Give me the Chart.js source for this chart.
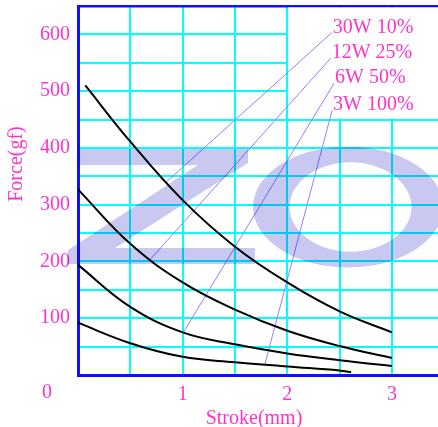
<!DOCTYPE html>
<html>
<head>
<meta charset="utf-8">
<script src="https://cdn.jsdelivr.net/npm/chart.js@4.4.1/dist/chart.umd.min.js"></script>
<style>
  html, body { margin: 0; padding: 0; background: #fff; }
  #wrap { width: 438px; height: 427px; position: relative; }
</style>
</head>
<body>
<div id="wrap"><canvas id="chart"></canvas></div>
<script>
// stroke (mm) and force (gf)
const stroke30W = [0.07, 0.5, 1.0, 1.5, 2.0, 2.5, 3.0];
const force30W = [510, 411, 308, 226, 163, 112, 75];
const stroke12W = [0, 0.5, 1.0, 1.5, 2.0, 2.5, 3.0];
const force12W = [327, 231, 163, 115, 78, 51, 30];
const stroke6W = [0, 0.5, 1.0, 1.5, 2.0, 2.5, 3.0];
const force6W = [194, 120, 75, 54, 38, 26, 16];
const stroke3W = [0, 0.5, 1.0, 1.5, 2.0, 2.5, 2.61];
const force3W = [92, 56, 32, 22.5, 15, 8, 5];

// callout labels, leader lines go from the label to its curve
const calloutLabels = ["30W 10%", "12W 25%", "6W 50%", "3W 100%"];
const calloutFromX = [2.425, 2.415, 2.447, 2.428];
const calloutFromY = [603, 558, 514, 466];
const calloutToX = [0.832, 0.673, 1.007, 1.786];
const calloutToY = [338, 200, 75, 19];

const xTickLabels = [1, 2, 3];
const yTickLabels = [100, 200, 300, 400, 500, 600];

const PINK = "#ff33cc";
const BLUE = "#1010ff";
const CYAN = "#00ffff";
const FONT = "'Liberation Serif', 'DejaVu Serif', serif";

Chart.defaults.font.family = FONT;
Chart.defaults.font.size = 20;

const toPoints = (xs, ys) => xs.map((x, i) => ({ x: x, y: ys[i] }));

const curves = [
    [stroke30W, force30W],
    [stroke12W, force12W],
    [stroke6W, force6W],
    [stroke3W, force3W],
].map(([xs, ys]) => ({
    data: toPoints(xs, ys),
    borderColor: "#000",
    borderWidth: 2,
    tension: 0.4,
    pointRadius: 0,
}));

const leaders = calloutLabels.map((label, i) => ({
    data: [
        { x: calloutFromX[i], y: calloutFromY[i] },
        { x: calloutToX[i], y: calloutToY[i] },
    ],
    borderColor: "#9080ff",
    borderWidth: 1,
    pointRadius: 0,
}));

const decor = {
    id: "decor",
    beforeDatasetsDraw(chart) {
        // no grid behind the callout labels
        const { ctx, chartArea, scales: { x, y } } = chart;
        const left = x.getPixelForValue(2) + 1;
        const bottom = y.getPixelForValue(450) - 1;
        ctx.save();
        ctx.fillStyle = "#fff";
        ctx.fillRect(left, chartArea.top + 1.5, chartArea.right - left, bottom - chartArea.top - 1.5);
        ctx.restore();
    },
    afterDatasetsDraw(chart) {
        // faint "ZO" watermark
        const ctx = chart.ctx;
        ctx.save();
        ctx.globalCompositeOperation = "multiply";
        ctx.fillStyle = "#c8c8f0";
        const z = [[78, 149], [248, 149], [248, 163], [115, 248], [255, 248],
                   [255, 264], [68, 264], [68, 250], [198, 165], [78, 165]];
        ctx.beginPath();
        z.forEach(([px, py], i) => (i ? ctx.lineTo(px, py) : ctx.moveTo(px, py)));
        ctx.closePath();
        ctx.fill();
        ctx.beginPath();
        ctx.ellipse(348, 207, 95, 60.5, 0, 0, Math.PI * 2);
        ctx.moveTo(350.5 + 61, 207);
        ctx.ellipse(350.5, 207, 61, 44.7, 0, 0, Math.PI * 2);
        ctx.fill("evenodd");
        ctx.restore();
    },
    afterDraw(chart) {
        const { ctx, chartArea, scales: { x, y } } = chart;
        ctx.save();
        ctx.fillStyle = PINK;
        ctx.font = "20px " + FONT;

        ctx.textAlign = "center";
        ctx.textBaseline = "middle";
        ctx.fillText("0", 47, 393);

        ctx.textBaseline = "alphabetic";
        ctx.fillText("Stroke(mm)", (chartArea.left + chartArea.right) / 2 - 4, 424);

        ctx.save();
        ctx.translate(21.5, 164);
        ctx.rotate(-Math.PI / 2);
        ctx.fillText("Force(gf)", 0, 0);
        ctx.restore();

        ctx.textAlign = "left";
        calloutLabels.forEach((label, i) => {
            ctx.fillText(label, x.getPixelForValue(calloutFromX[i]) + 1, y.getPixelForValue(calloutFromY[i]));
        });
        ctx.restore();
    },
};

new Chart(document.getElementById("chart"), {
    type: "line",
    data: { datasets: [...curves, ...leaders] },
    options: {
        responsive: true,
        maintainAspectRatio: false,
        animation: false,
        layout: { padding: { top: 6, right: 0, bottom: 0, left: 0 } },
        plugins: { legend: { display: false }, tooltip: { enabled: false } },
        scales: {
            x: {
                type: "linear",
                min: 0,
                max: 3.44,
                afterFit: (scale) => {
                    scale.height = 52;
                    scale.paddingLeft = 0;
                    scale.paddingRight = 0;
                },
                border: { color: BLUE, width: 3 },
                grid: {
                    drawTicks: false,
                    lineWidth: 2,
                    color: (c) => (c.tick && c.tick.value === 0 ? "rgba(0,0,0,0)" : CYAN),
                },
                ticks: {
                    stepSize: 0.5,
                    includeBounds: false,
                    autoSkip: false,
                    maxRotation: 0,
                    padding: 8,
                    color: PINK,
                    callback: (v) => (xTickLabels.includes(v) ? String(v) : ""),
                },
            },
            y: {
                min: 0,
                max: 650,
                afterFit: (scale) => {
                    scale.width = 78;
                    scale.paddingTop = 0;
                    scale.paddingBottom = 0;
                },
                border: { color: BLUE, width: 3 },
                grid: {
                    drawTicks: false,
                    lineWidth: (c) => (c.tick && c.tick.value === 650 ? 2.5 : 2),
                    color: (c) => {
                        if (!c.tick) return CYAN;
                        if (c.tick.value === 0) return "rgba(0,0,0,0)";
                        return c.tick.value === 650 ? BLUE : CYAN;
                    },
                },
                ticks: {
                    stepSize: 50,
                    autoSkip: false,
                    padding: 8,
                    color: PINK,
                    callback: (v) => (yTickLabels.includes(v) ? String(v) : ""),
                },
            },
        },
    },
    plugins: [decor],
});
</script>
</body>
</html>
